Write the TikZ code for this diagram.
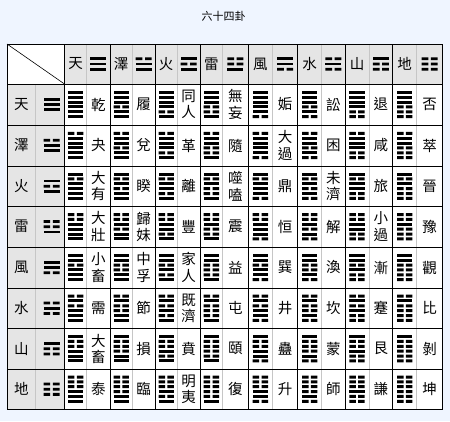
\documentclass[tikz,border=0pt]{standalone}
\usepackage{fontspec}
\setmainfont{Noto Sans CJK TC}
\definecolor{bgc}{RGB}{239,245,255}
\definecolor{hdr}{RGB}{229,229,229}
\definecolor{sep}{RGB}{198,198,198}
\def\guathick{2.7}
\newcommand\tribits[1]{\ifcase#1 1,1,1\or0,1,1\or1,0,1\or0,0,1\or1,1,0\or0,1,0\or1,0,0\or0,0,0\fi}
% centres of the symbol columns, name columns and rows
\newcommand\symx[1]{\ifcase#1 75.6\or121.15\or166.15\or211.35\or260.35\or309.7\or357\or404.7\fi}
\newcommand\namex[1]{\ifcase#1 98.35\or143.65\or188.65\or235.35\or285.2\or333.35\or380.85\or429.6\fi}
\newcommand\rowy[1]{\ifcase#1 104.5\or145.5\or186.25\or226.75\or267.5\or308.25\or348.75\or389.15\fi}
% cx, cy, bits macro, n, width, pitch, gap
\newcommand\guabars[7]{%
  \foreach \b [count=\k] in #3 {%
    \pgfmathsetmacro\yt{#2-((#4-1)*#6+\guathick)/2+(\k-1)*#6}%
    \pgfmathsetmacro\yb{\yt+\guathick}%
    \pgfmathsetmacro\xl{#1-#5/2}%
    \pgfmathsetmacro\xr{#1+#5/2}%
    \pgfmathsetmacro\xml{#1-#7/2}%
    \pgfmathsetmacro\xmr{#1+#7/2}%
    \ifnum\b=1\relax
      \fill (\xl,\yt) rectangle (\xr,\yb);
    \else
      \fill (\xl,\yt) rectangle (\xml,\yb) (\xmr,\yt) rectangle (\xr,\yb);
    \fi
  }%
}
\newcommand\cellname[3]{%
  \edef\cx{\namex{#2}}%
  \edef\cy{\rowy{#1}}%
  \node[gname] (n#1#2) at (\cx,\cy) {#3};%
}
\newcommand\namerow[9]{\cellname{#1}{0}{#2}\cellname{#1}{1}{#3}\cellname{#1}{2}{#4}\cellname{#1}{3}{#5}\cellname{#1}{4}{#6}\cellname{#1}{5}{#7}\cellname{#1}{6}{#8}\cellname{#1}{7}{#9}}
\begin{document}
\begin{tikzpicture}[x=1pt,y=-1pt,
  gname/.style={font=\fontsize{14.5}{16.5}\selectfont, align=center, inner sep=0pt},
  titlestyle/.style={font=\fontsize{11}{13}\selectfont, inner sep=0pt},
  blk/.style={line width=1pt, black},
  gry/.style={line width=1pt, sep}]
\fill[bgc] (0,0) rectangle (450,421);
\useasboundingbox (0,0) rectangle (450,421);
\node[titlestyle] (title) at (223.5,16) {六十四卦};
% cell fills
\fill[white] (7,44) rectangle (442.5,409.3);
\fill[hdr] (64.5,44) rectangle (442.5,84);
\fill[hdr] (7,84) rectangle (64.5,409.3);
% grey separators
\draw[gry] (35.7,84) -- (35.7,409.3);
\foreach \xx in {86.7,132.3,177.3,222.7,272.7,321.7,369,416.7}{\draw[gry] (\xx,44) -- (\xx,409.3);}
% black rules
\foreach \yy in {84,125,166,206.5,247,288,328.5,369}{\draw[blk] (7,\yy) -- (442.5,\yy);}
\foreach \xx in {64.5,110,155,200,248,297.7,345,392.7}{\draw[blk] (\xx,44) -- (\xx,409.3);}
\draw[blk] (7,44) rectangle (442.5,409.3);
\draw[line width=0.6pt] (7,44) -- (64.5,84);
% header names and trigrams
\def\guathick{2.8}
\foreach \j/\t in {0/天,1/澤,2/火,3/雷,4/風,5/水,6/山,7/地}{%
  \edef\cx{\symx{\j}}%
  \node[gname] (h\j) at (\cx,64) {\t};
  \edef\tx{\namex{\j}}%
  \edef\bits{\tribits{\j}}%
  \guabars{\tx}{64}{\bits}{3}{16}{5.2}{2.7}
  \edef\cy{\rowy{\j}}%
  \node[gname] (r\j) at (21.3,\cy) {\t};
  \guabars{51.5}{\cy}{\bits}{3}{16}{5.2}{2.7}
}
% hexagrams: row = upper trigram, column = lower trigram
\def\guathick{3}
\foreach \i in {0,...,7}{%
  \foreach \j in {0,...,7}{%
    \edef\cx{\symx{\j}}%
    \edef\cy{\rowy{\i}}%
    \edef\bits{\tribits{\i},\tribits{\j}}%
    \guabars{\cx}{\cy}{\bits}{6}{15.3}{4.86}{2.3}
  }
}
% hexagram names
\namerow{0}{乾}{履}{同\\人}{無\\妄}{姤}{訟}{退}{否}
\namerow{1}{夬}{兌}{革}{隨}{大\\過}{困}{咸}{萃}
\namerow{2}{大\\有}{睽}{離}{噬\\嗑}{鼎}{未\\濟}{旅}{晉}
\namerow{3}{大\\壯}{歸\\妹}{豐}{震}{恒}{解}{小\\過}{豫}
\namerow{4}{小\\畜}{中\\孚}{家\\人}{益}{巽}{渙}{漸}{觀}
\namerow{5}{需}{節}{既\\濟}{屯}{井}{坎}{蹇}{比}
\namerow{6}{大\\畜}{損}{賁}{頤}{蠱}{蒙}{艮}{剝}
\namerow{7}{泰}{臨}{明\\夷}{復}{升}{師}{謙}{坤}
\end{tikzpicture}
\end{document}
